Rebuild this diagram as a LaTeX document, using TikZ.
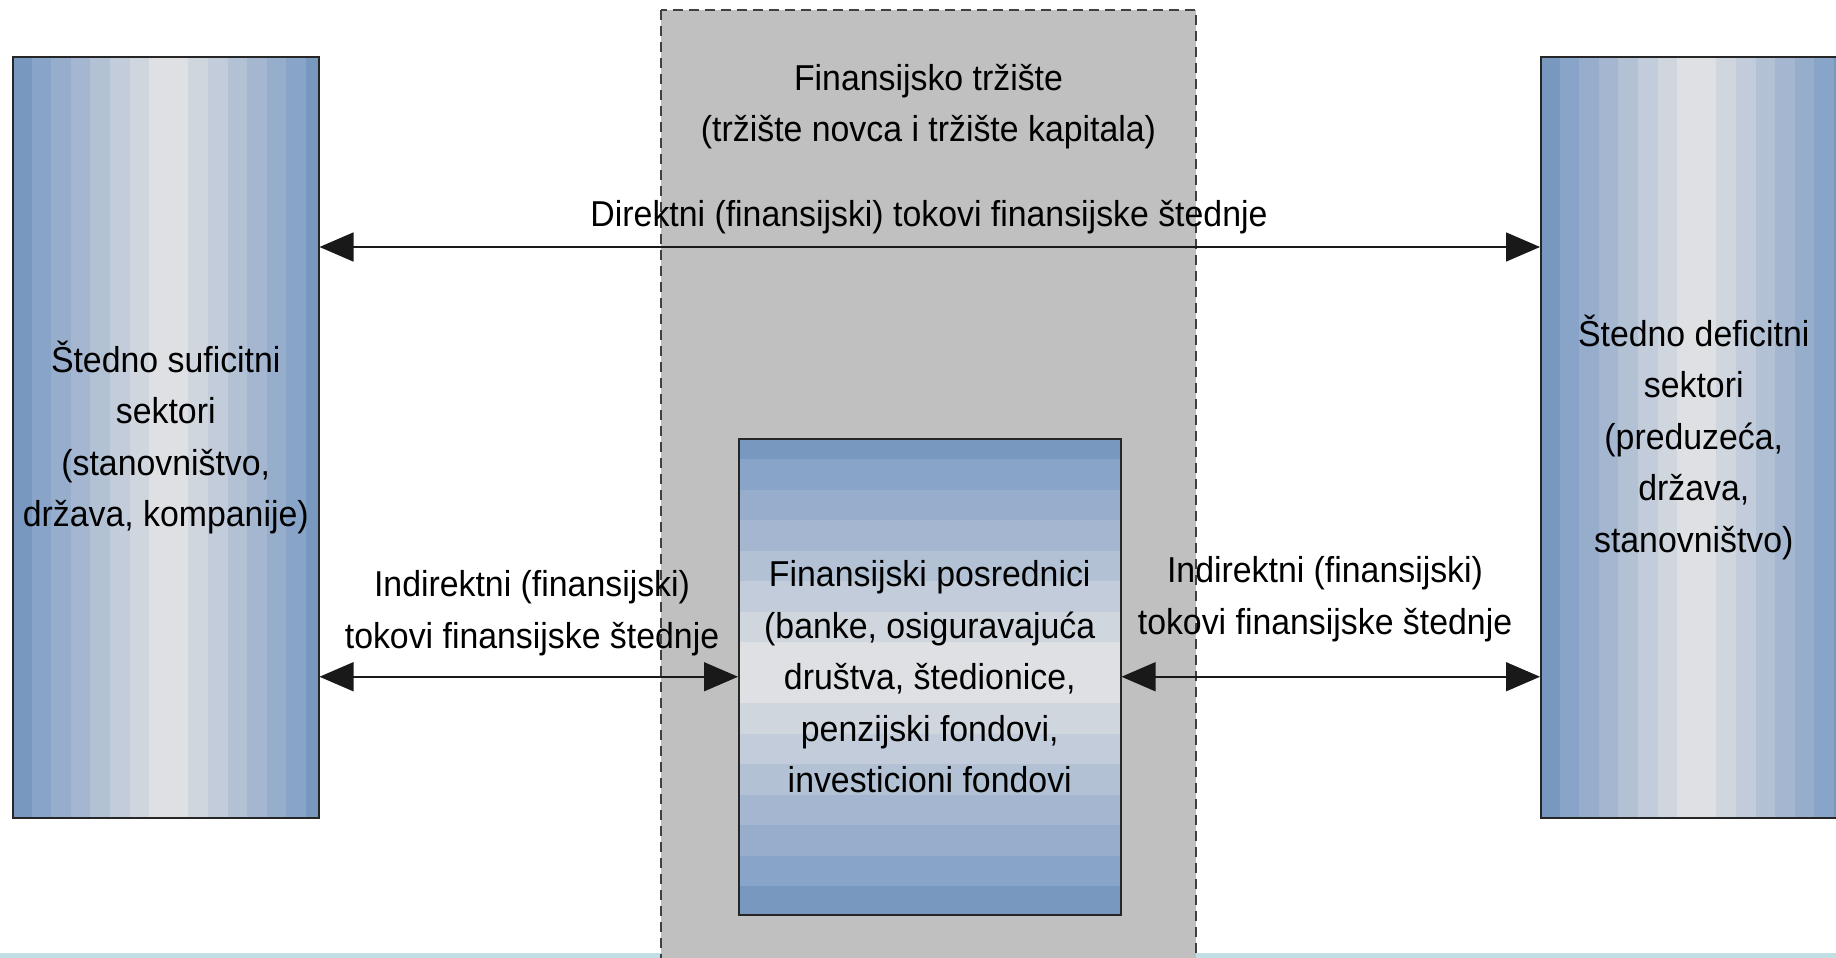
\documentclass[tikz,border=0pt]{standalone}
\usepackage{fontspec}
\setmainfont{Liberation Sans}[FakeStretch=0.94]
\usetikzlibrary{arrows.meta,calc}
\definecolor{s0}{HTML}{7898C0}
\definecolor{s1}{HTML}{88A4C8}
\definecolor{s2}{HTML}{96ADCB}
\definecolor{s3}{HTML}{A4B6D0}
\definecolor{s4}{HTML}{B2C2D4}
\definecolor{s5}{HTML}{C2CCDA}
\definecolor{s6}{HTML}{D0D6DE}
\definecolor{s7}{HTML}{DEE0E4}
\definecolor{grayfill}{HTML}{C0C0C0}
\definecolor{cyanline}{HTML}{C2DFE6}
\begin{document}
\begin{tikzpicture}[x=0.5pt,y=-0.5pt,
  lbl/.style={font=\fontsize{18pt}{25.75pt}\selectfont, align=center, inner sep=0pt, text=black},
  box/.style={draw=black!85, line width=0.75pt, inner sep=0pt, anchor=north west,
    font=\fontsize{18pt}{25.75pt}\selectfont, align=center, text=black},
  market/.style={draw=black!75, fill=grayfill, line width=0.75pt, dash pattern=on 5pt off 3pt},
  arr/.style={{Triangle[length=17pt,width=14.5pt]}-{Triangle[length=17pt,width=14.5pt]}, line width=0.75pt, draw=black!90}]
\useasboundingbox (0,0) rectangle (1836,958);
\clip (0,0) rectangle (1836,958);
\fill[white] (0,0) rectangle (1836,958);
% bottom strip
\fill[cyanline] (0,953) rectangle (1836,958);
% financial market region
\draw[market] (661,10) rectangle (1196,990);
\node[lbl] (G) at (928.5,106.5) {Finansijsko tržište\\(tržište novca i tržište kapitala)};
% stripes of left box
\begin{scope}
\clip (12,56) rectangle (318,817);
\foreach \i in {0,...,15}{
  \pgfmathtruncatemacro\lv{\i<8 ? \i : 15-\i}
  \fill[fill=s\lv] ({12+\i*19.6},56) rectangle ({12+(\i+1)*19.6+0.5},817);
}
\end{scope}
% stripes of right box
\begin{scope}
\clip (1540,56) rectangle (1846,817);
\foreach \i in {0,...,15}{
  \pgfmathtruncatemacro\lv{\i<8 ? \i : 15-\i}
  \fill[fill=s\lv] ({1540+\i*19.6},56) rectangle ({1540+(\i+1)*19.6+0.5},817);
}
\end{scope}
% stripes of middle box
\begin{scope}
\clip (738,438) rectangle (1120,914);
\foreach \i in {0,...,15}{
  \pgfmathtruncatemacro\lv{\i<8 ? \i : 15-\i}
  \fill[fill=s\lv] (738,{428.5+\i*30.5}) rectangle (1120,{428.5+(\i+1)*30.5+0.5});
}
\end{scope}
% boxes
\node[box, minimum width=153pt, minimum height=380.5pt] (L) at (12,56)
  {Štedno suficitni\\sektori\\(stanovništvo,\\država, kompanije)};
\node[box, minimum width=153pt, minimum height=380.5pt] (R) at (1540,56)
  {Štedno deficitni\\sektori\\(preduzeća,\\država,\\stanovništvo)};
\node[box, minimum width=191pt, minimum height=238pt] (M) at (738,438)
  {Finansijski posrednici\\(banke, osiguravajuća\\društva, štedionice,\\penzijski fondovi,\\investicioni fondovi};
% labels
\node[lbl] (dl) at (929,217.5) {Direktni (finansijski) tokovi finansijske štednje};
\node[lbl] (il) at (532,613) {Indirektni (finansijski)\\tokovi finansijske štednje};
\node[lbl] (ir) at (1325,599) {Indirektni (finansijski)\\tokovi finansijske štednje};
% connectors
\coordinate (dy) at (0,247);
\draw[arr] (L.east |- dy) -- (R.west |- dy);
\draw[arr] (L.east |- M.west) -- (M.west);
\draw[arr] (M.east) -- (R.west |- M.east);
\end{tikzpicture}
\end{document}
